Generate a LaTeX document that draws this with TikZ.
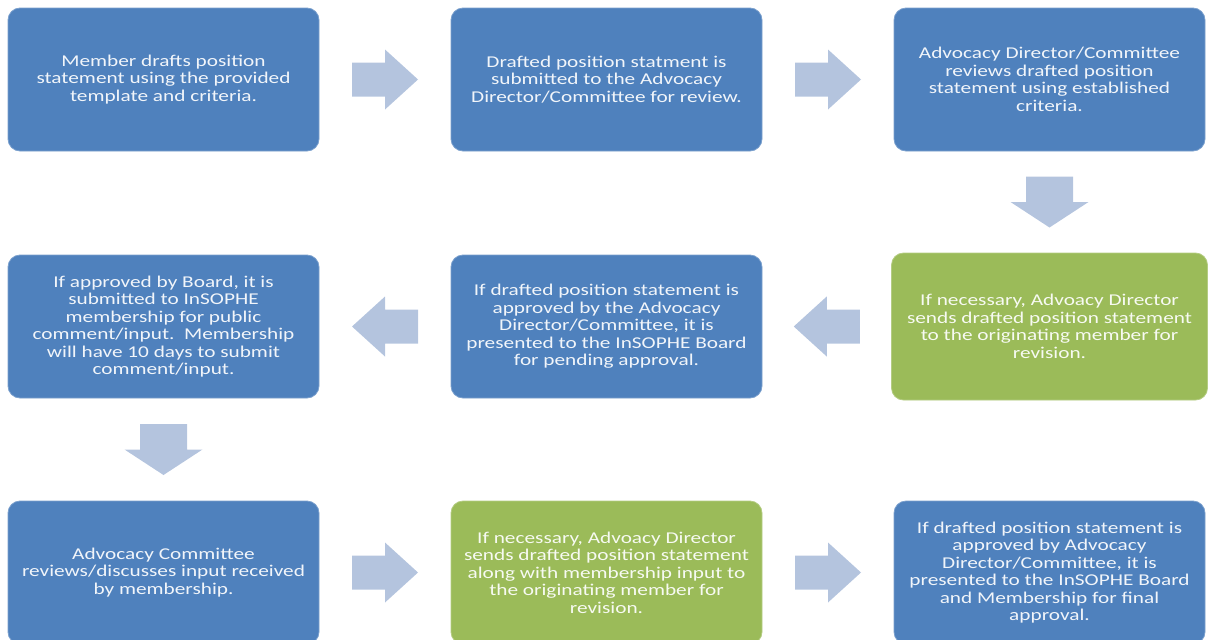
\documentclass[tikz,border=0pt]{standalone}
\usepackage{fontspec}
\setmainfont{Carlito}[FakeStretch=1.29]
\usetikzlibrary{calc}
\definecolor{stepblue}{RGB}{79,129,189}
\definecolor{stepgreen}{RGB}{155,187,89}
\definecolor{arrowblue}{RGB}{180,196,222}

\begin{document}
\begin{tikzpicture}[x=1pt, y=1pt,
        stepbox/.style={rectangle, rounded corners=12pt, fill=stepblue, draw=stepblue!75!white,
            line width=0.8pt, text=white!92!stepblue, minimum width=311pt, minimum height=143pt,
            align=center, inner sep=0pt, font=\fontsize{16.5}{17.5}\selectfont},
        revbox/.style={stepbox, fill=stepgreen, draw=stepgreen!75!white, text=white!92!stepgreen},
        pics/harrow/.style={code={\fill[arrowblue] (-33,-17) -- (0,-17) -- (0,-30) -- (33,0) -- (0,30) -- (0,17) -- (-33,17) -- cycle;}},
        pics/varrow/.style={code={\fill[arrowblue] (-23.5,25.5) -- (23.5,25.5) -- (23.5,0) -- (39,0) -- (0,-25.5) -- (-39,0) -- (-23.5,0) -- cycle;}}]
        \useasboundingbox (0,0) rectangle (1208,-640);
        % top row
        \node[stepbox] (draft) at (163.5,-79.5) {Member drafts position\\statement using the provided\\template and criteria.};
        \node[stepbox] (submit) at (606.5,-79.5) {Drafted position statment is\\submitted to the Advocacy\\Director/Committee for review.};
        \node[stepbox] (review) at (1049.5,-79.5) {Advocacy Director/Committee\\reviews drafted position\\statement using established\\criteria.};
        % middle row
        \node[stepbox] (public) at (163.5,-326.5) {If approved by Board, it is\\submitted to InSOPHE\\membership for public\\comment/input.\ \ Membership\\will have 10 days to submit\\comment/input.};
        \node[stepbox] (board) at (606.5,-326.5) {If drafted position statement is\\approved by the Advocacy\\Director/Committee, it is\\presented to the InSOPHE Board\\for pending approval.};
        \node[revbox, minimum width=316pt, minimum height=147pt] (revise) at (1049.5,-326.5) {If necessary, Advoacy Director\\sends drafted position statement\\to the originating member for\\revision.};
        % bottom row
        \node[stepbox] (discuss) at (163.5,-572.5) {Advocacy Committee\\reviews/discusses input received\\by membership.};
        \node[revbox] (rerevise) at (606.5,-572.5) {If necessary, Advoacy Director\\sends drafted position statement\\along with membership input to\\the originating member for\\revision.};
        \node[stepbox] (final) at (1049.5,-572.5) {If drafted position statement is\\approved by Advocacy\\Director/Committee, it is\\presented to the InSOPHE Board\\and Membership for final\\approval.};
        % block arrows between the steps
        \pic at ($(draft.east)!0.5!(submit.west)$) {harrow};
        \pic at ($(submit.east)!0.5!(review.west)$) {harrow};
        \pic at ($(review.south)!0.5!(revise.north)$) {varrow};
        \pic[xscale=-1] at ($(board.east)!0.5!(revise.west)$) {harrow};
        \pic[xscale=-1] at ($(public.east)!0.5!(board.west)$) {harrow};
        \pic at ($(public.south)!0.5!(discuss.north)$) {varrow};
        \pic at ($(discuss.east)!0.5!(rerevise.west)$) {harrow};
        \pic at ($(rerevise.east)!0.5!(final.west)$) {harrow};
\end{tikzpicture}
\end{document}
